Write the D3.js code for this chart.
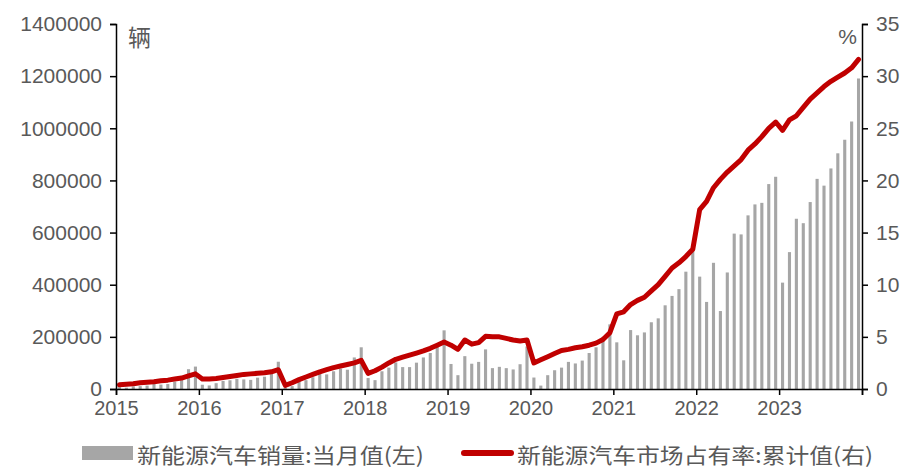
<!DOCTYPE html>
<html>
<head>
<meta charset="utf-8">
<script src="https://cdn.jsdelivr.net/npm/d3@7"></script>
<style>
  body { margin: 0; background: #fff; }
  text { font-family: "Liberation Sans", Arial, sans-serif; fill: #595959; }
  .cjk { font-family: "Noto Sans CJK SC", sans-serif; }
</style>
</head>
<body>
<div id="chart"></div>
<script>
const years = [2015, 2016, 2017, 2018, 2019, 2020, 2021, 2022, 2023];

// 新能源汽车销量:当月值 (辆)
const sales2015 = [7000, 5000, 10000, 11000, 13000, 20000, 17000, 19000, 28000, 34000, 76000, 86000];
const sales2016 = [16400, 13600, 22300, 31100, 33500, 38900, 36700, 35000, 43400, 47200, 68300, 104600];
const sales2017 = [5700, 11000, 31000, 34000, 45000, 67000, 56000, 68000, 78000, 74000, 121000, 160000];
const sales2018 = [42000, 34000, 68000, 82000, 102000, 84000, 84000, 101000, 121000, 138000, 170000, 225000];
const sales2019 = [96000, 53000, 126000, 97000, 104000, 152000, 80000, 85000, 80000, 75000, 95000, 163000];
const sales2020 = [44000, 13000, 53000, 72000, 82000, 104000, 98000, 109000, 138000, 160000, 200000, 248000];
const sales2021 = [179000, 110000, 226000, 206000, 217000, 256000, 271000, 321000, 357000, 383000, 450000, 531000];
const sales2022 = [431000, 334000, 484000, 299000, 447000, 596000, 593000, 666000, 708000, 714000, 786000, 814000];
const sales2023 = [408000, 525000, 653000, 636000, 717000, 806000, 780000, 846000, 904000, 956000, 1026000, 1191000];

// 新能源汽车市场占有率:累计值 (%)
const share2015 = [0.4, 0.45, 0.5, 0.6, 0.65, 0.7, 0.8, 0.85, 0.95, 1.05, 1.25, 1.45];
const share2016 = [0.95, 0.95, 1.0, 1.1, 1.2, 1.3, 1.4, 1.45, 1.5, 1.55, 1.65, 1.85];
const share2017 = [0.35, 0.6, 0.9, 1.15, 1.4, 1.65, 1.85, 2.05, 2.2, 2.35, 2.5, 2.75];
const share2018 = [1.5, 1.75, 2.1, 2.5, 2.85, 3.05, 3.25, 3.45, 3.65, 3.9, 4.2, 4.5];
const share2019 = [4.2, 3.8, 4.7, 4.3, 4.45, 5.05, 5.0, 5.0, 4.85, 4.7, 4.6, 4.7];
const share2020 = [2.5, 2.8, 3.1, 3.4, 3.7, 3.8, 3.95, 4.05, 4.2, 4.4, 4.75, 5.4];
const share2021 = [7.2, 7.4, 8.1, 8.5, 8.8, 9.4, 10.0, 10.8, 11.6, 12.1, 12.7, 13.4];
const share2022 = [17.2, 18.0, 19.3, 20.1, 20.8, 21.4, 22.0, 22.9, 23.5, 24.2, 25.0, 25.6];
const share2023 = [24.8, 25.8, 26.2, 27.0, 27.8, 28.4, 29.0, 29.5, 29.9, 30.3, 30.8, 31.6];

const leftTicks = [0, 200000, 400000, 600000, 800000, 1000000, 1200000, 1400000];
const rightTicks = [0, 5, 10, 15, 20, 25, 30, 35];

const salesAll = [sales2015, sales2016, sales2017, sales2018, sales2019, sales2020, sales2021, sales2022, sales2023].flat();
const shareAll = [share2015, share2016, share2017, share2018, share2019, share2020, share2021, share2022, share2023].flat();
const months = years.flatMap(y => d3.range(1, 13).map(m => `${y}-${String(m).padStart(2, '0')}`));
const data = months.map((m, i) => ({ month: m, sales: salesAll[i], share: shareAll[i] }));

const width = 910, height = 475;
const margin = { top: 24, right: 48, bottom: 86, left: 116 };
const innerW = width - margin.left - margin.right;
const innerH = height - margin.top - margin.bottom;

const svg = d3.select('#chart').append('svg')
  .attr('width', width)
  .attr('height', height);

const g = svg.append('g').attr('transform', `translate(${margin.left},${margin.top})`);

const x = d3.scaleBand()
  .domain(months)
  .range([0, innerW])
  .paddingInner(0.55)
  .paddingOuter(0.275);

const yL = d3.scaleLinear().domain([0, 1400000]).range([innerH, 0]);
const yR = d3.scaleLinear().domain([0, 35]).range([innerH, 0]);

// bars
g.selectAll('rect.bar')
  .data(data)
  .enter().append('rect')
  .attr('class', 'bar')
  .attr('x', d => x(d.month))
  .attr('width', x.bandwidth())
  .attr('y', d => yL(d.sales))
  .attr('height', d => innerH - yL(d.sales))
  .attr('fill', '#a6a6a6');

// share line
const line = d3.line()
  .x(d => x(d.month) + x.bandwidth() / 2)
  .y(d => yR(d.share));

g.append('path')
  .datum(data)
  .attr('d', line)
  .attr('fill', 'none')
  .attr('stroke', '#c00000')
  .attr('stroke-width', 5)
  .attr('stroke-linejoin', 'round')
  .attr('stroke-linecap', 'round');

// axes
const leftAxis = d3.axisLeft(yL).tickValues(leftTicks).tickSize(6).tickPadding(8).tickFormat(d3.format('d'));
const rightAxis = d3.axisRight(yR).tickValues(rightTicks).tickSize(6).tickPadding(8);

const gl = g.append('g').call(leftAxis);
const gr = g.append('g').attr('transform', `translate(${innerW},0)`).call(rightAxis);

// x axis: ticks on year boundaries
const yearX = d3.scaleLinear().domain([2015, 2024]).range([0, innerW]);
const gx = g.append('g').attr('transform', `translate(0,${innerH})`)
  .call(d3.axisBottom(yearX).tickValues(d3.range(2015, 2025)).tickSize(6).tickPadding(6)
    .tickFormat(d => d < 2024 ? d : ''));

[gl, gr, gx].forEach(a => {
  a.select('.domain').attr('stroke', '#000').attr('stroke-width', 1.5);
  a.selectAll('.tick line').attr('stroke', '#000').attr('stroke-width', 1.5);
  a.selectAll('.tick text').attr('font-size', 21).attr('fill', '#595959')
    .style('font-family', '"Liberation Sans", Arial, sans-serif');
});
gx.selectAll('.tick text').attr('font-size', 20);

// unit labels
g.append('text').attr('class', 'cjk').attr('x', 12).attr('y', 22).attr('font-size', 23).text('辆');
g.append('text').attr('x', innerW - 5).attr('y', 20).attr('text-anchor', 'end').attr('font-size', 21).text('%');

// legend
const lg = svg.append('g').attr('transform', `translate(0,${height - 12})`);
lg.append('rect').attr('x', 82).attr('y', -17).attr('width', 51).attr('height', 14).attr('fill', '#a6a6a6');
lg.append('text').attr('class', 'cjk').attr('x', 137).attr('y', 0).attr('font-size', 21)
  .attr('textLength', 287).attr('lengthAdjust', 'spacingAndGlyphs')
  .text('新能源汽车销量:当月值(左)');
lg.append('line').attr('x1', 464).attr('x2', 511).attr('y1', -10).attr('y2', -10)
  .attr('stroke', '#c00000').attr('stroke-width', 6).attr('stroke-linecap', 'round');
lg.append('text').attr('class', 'cjk').attr('x', 517).attr('y', 0).attr('font-size', 21)
  .attr('textLength', 356).attr('lengthAdjust', 'spacingAndGlyphs')
  .text('新能源汽车市场占有率:累计值(右)');
</script>
</body>
</html>
